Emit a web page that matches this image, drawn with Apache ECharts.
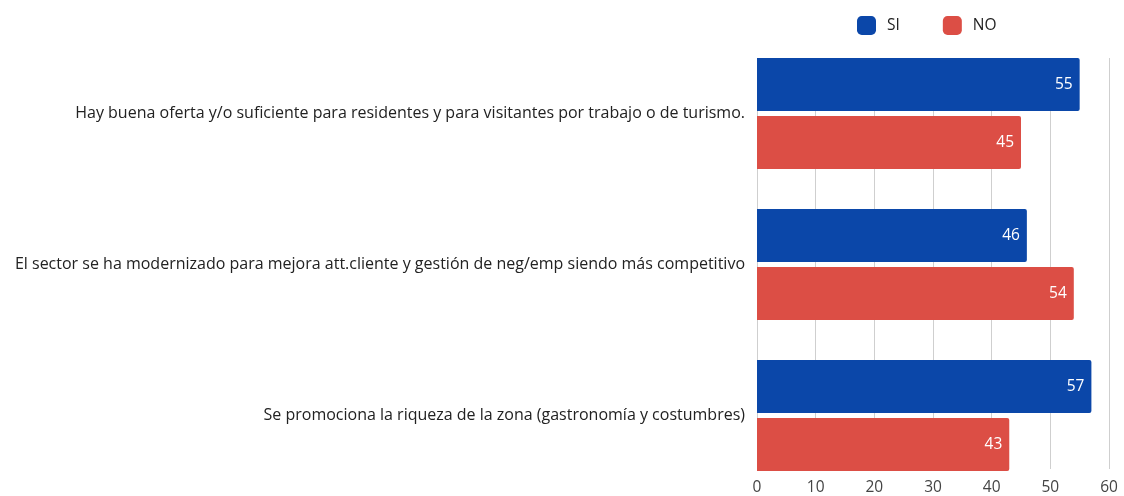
<!DOCTYPE html>
<html>
<head>
<meta charset="utf-8">
<script src="https://cdn.jsdelivr.net/npm/echarts@6/dist/echarts.min.js"></script>
<style>
  html, body { margin: 0; padding: 0; background: #fff; }
  #chart { width: 1124px; height: 496px; }
</style>
</head>
<body>
<div id="chart"></div>
<script>
const categories = [
  'Hay buena oferta y/o suficiente para residentes y para visitantes por trabajo o de turismo.',
  'El sector se ha modernizado para mejora att.cliente y gestión de neg/emp siendo más competitivo',
  'Se promociona la riqueza de la zona (gastronomía y costumbres)'
]
const siData = [55, 46, 57]
const noData = [45, 54, 43]
const xTicks = [0, 10, 20, 30, 40, 50, 60]

const font = '"Open Sans", "Noto Sans", sans-serif'
const chart = echarts.init(document.getElementById('chart'))

const barLabel = {
  show: true,
  position: 'insideRight',
  color: '#fff',
  fontSize: 15.5,
  fontFamily: font,
  distance: 7
}

chart.setOption({
  animation: false,
  legend: {
    data: ['SI', 'NO'],
    top: 11,
    left: 852,
    icon: 'roundRect',
    itemWidth: 19,
    itemHeight: 19,
    itemGap: 43,
    textStyle: { fontSize: 15.5, color: '#222', fontFamily: font, padding: [0, 0, 0, 6] }
  },
  grid: [
    { left: 757, right: 15, top: 38, height: 453 },
    { left: 757, right: 15, top: 58, height: 413 }
  ],
  xAxis: [
    {
      gridIndex: 0, type: 'value', min: 0, max: 60, interval: 10,
      axisLabel: { show: false }, splitLine: { show: false },
      axisLine: { show: false }, axisTick: { show: false }
    },
    {
      gridIndex: 1, type: 'value', min: 0, max: 60, interval: 10,
      axisLabel: {
        color: '#444', fontSize: 15.5, fontFamily: font, margin: 11,
        formatter: v => xTicks.includes(v) ? String(v) : ''
      },
      splitLine: { show: true, lineStyle: { color: '#cfcfcf', width: 1 } },
      axisLine: { show: false }, axisTick: { show: false }
    }
  ],
  yAxis: [
    {
      gridIndex: 0, type: 'category', data: categories, inverse: true,
      axisLine: { show: false }, axisTick: { show: false },
      axisLabel: { color: '#222', fontSize: 16, fontFamily: font, margin: 12 }
    },
    {
      gridIndex: 1, type: 'value', min: 0, max: 1, show: false
    }
  ],
  series: [
    {
      name: 'SI', type: 'bar', xAxisIndex: 0, yAxisIndex: 0,
      data: siData, barWidth: 53, barGap: '9%',
      itemStyle: { color: '#0b47a9', borderRadius: [0, 2, 2, 0] },
      label: barLabel
    },
    {
      name: 'NO', type: 'bar', xAxisIndex: 0, yAxisIndex: 0,
      data: noData, barWidth: 53, barGap: '9%',
      itemStyle: { color: '#dc4e45', borderRadius: [0, 2, 2, 0] },
      label: barLabel
    }
  ]
})
</script>
</body>
</html>
